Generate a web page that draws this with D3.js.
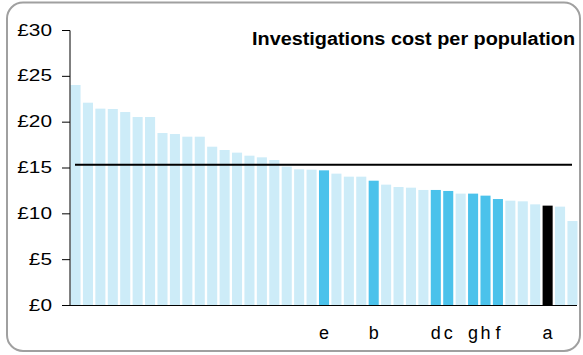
<!DOCTYPE html>
<html><head><meta charset="utf-8">
<script src="https://cdn.jsdelivr.net/npm/d3@7"></script>
<style>body{margin:0;background:#fff}svg{display:block}text{font-family:"Liberation Sans",Arial,sans-serif}</style>
</head><body>
<script>
const values = [24.0,22.07,21.42,21.38,21.05,20.51,20.51,18.76,18.65,18.36,18.36,17.27,16.91,16.62,16.29,16.11,15.82,15.1,14.8,14.76,14.69,14.33,14.0,14.0,13.56,13.13,12.87,12.8,12.55,12.55,12.44,12.15,12.15,11.93,11.56,11.38,11.31,10.98,10.84,10.73,9.16];
const labels = ["","","","","","","","","","","","","","","","","","","","","e","","","","b","","","","","d","c","","g","h","f","","","","a","",""];
const highlight = ["","","","","","","","","","","","","","","","","","","","","hi","","","","hi","","","","","hi","hi","","hi","hi","hi","","","","self","",""];
const average = 15.3;
const yTicks = [0,5,10,15,20,25,30];
const title = "Investigations cost per population";

const W=583,H=355;
const svg=d3.select("body").append("svg").attr("width",W).attr("height",H);
svg.append("rect").attr("x",7).attr("y",2.5).attr("width",573).attr("height",348.5).attr("rx",16)
  .attr("fill","#fff").attr("stroke","#a0a0a0").attr("stroke-width",2);

const x=d3.scaleBand().domain(d3.range(values.length)).range([70,578]).paddingInner(0.19).paddingOuter(0.04);
const y=d3.scaleLinear().domain([0,30]).range([305,30]);
const col={"":"#cdecf8","hi":"#4bc2eb","self":"#000"};

svg.selectAll("rect.bar").data(values).join("rect").attr("class","bar")
  .attr("x",(d,i)=>x(i)).attr("width",x.bandwidth())
  .attr("y",d=>y(d)).attr("height",d=>y(0)-y(d))
  .attr("fill",(d,i)=>col[highlight[i]]);

const ya=svg.append("g").attr("transform","translate(70,0)")
  .call(d3.axisLeft(y).tickValues(yTicks).tickFormat(d=>"£"+d).tickSize(8).tickPadding(10));
ya.select(".domain").attr("stroke","#000").attr("d","M0,30.5V305.5");
ya.selectAll(".tick line").attr("stroke","#000");
ya.selectAll("text").attr("font-size",16).attr("fill","#000")
  .attr("font-family","Liberation Sans, Arial, sans-serif")
  .attr("x",0).attr("transform","translate(-18,0) scale(1.3,1)");

svg.append("line").attr("x1",70).attr("x2",577).attr("y1",305.5).attr("y2",305.5).attr("stroke","#000").attr("stroke-width",1.2);

svg.append("line").attr("x1",75).attr("x2",572).attr("y1",y(average)).attr("y2",y(average))
  .attr("stroke","#000").attr("stroke-width",2.2);

svg.selectAll("text.lbl").data(labels).join("text").attr("class","lbl")
  .attr("x",(d,i)=>x(i)+x.bandwidth()/2).attr("y",338.5).attr("text-anchor","middle")
  .attr("font-size",18).attr("fill","#000").text(d=>d);

svg.append("text").attr("x",252).attr("y",44.5).attr("text-anchor","start")
  .attr("font-size",18).attr("font-weight","bold").attr("fill","#000")
  .attr("textLength",323).attr("lengthAdjust","spacingAndGlyphs").text(title);
</script>
</body></html>
